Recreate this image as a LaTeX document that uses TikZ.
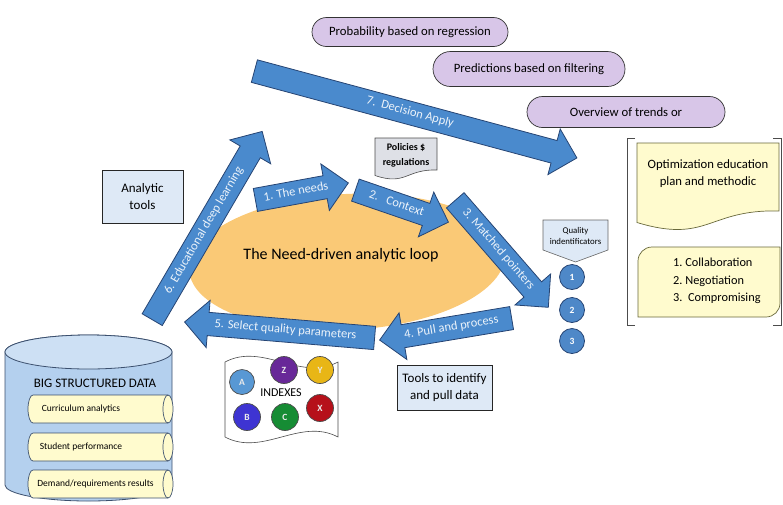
\documentclass[tikz,border=0pt]{standalone}
\usepackage{fontspec}
\setmainfont{Carlito}
\usetikzlibrary{shapes.arrows,shapes.misc,shapes.geometric}

\definecolor{ablue}{RGB}{74,138,205}
\definecolor{aedge}{RGB}{38,68,115}
\definecolor{atext}{RGB}{236,243,250}
\definecolor{loopfill}{RGB}{250,201,118}
\definecolor{lav}{RGB}{216,198,232}
\definecolor{lblue}{RGB}{222,233,246}
\definecolor{lyel}{RGB}{255,251,206}
\definecolor{yedge}{RGB}{105,105,60}
\definecolor{docgray}{RGB}{222,224,230}
\definecolor{cylbody}{RGB}{180,208,238}
\definecolor{cyltop}{RGB}{205,224,244}
\definecolor{cyledge}{RGB}{60,80,110}
\definecolor{cblue}{RGB}{78,136,200}
\definecolor{iA}{RGB}{88,152,212}
\definecolor{iZ}{RGB}{104,40,152}
\definecolor{iY}{RGB}{232,182,22}
\definecolor{iB}{RGB}{62,52,210}
\definecolor{iC}{RGB}{22,140,52}
\definecolor{iX}{RGB}{182,16,26}

\begin{document}
\begin{tikzpicture}[x=1pt,y=-1pt,
  barrow/.style={single arrow, draw=aedge, fill=ablue, line width=0.8pt,
    text=atext, font=\fontsize{12.5}{14}\selectfont, text height=8.5pt,
    text depth=3pt, inner ysep=5.5pt, inner xsep=3pt,
    single arrow head extend=12pt, anchor=tail},
  pill/.style={rounded rectangle, draw=black!80, fill=lav, line width=0.7pt,
    font=\fontsize{12.7}{15}\selectfont, inner sep=0pt},
  bluebox/.style={draw=black!85, fill=lblue, line width=0.7pt, align=center,
    inner sep=0pt},
  yel/.style={draw=yedge, fill=lyel, line width=0.7pt},
  cylb/.style={draw=cyledge, fill=lyel, line width=0.7pt},
  num/.style={circle, draw=aedge, fill=cblue, line width=0.8pt, minimum size=25pt,
    inner sep=0pt, text=white, font=\fontsize{9.5}{10}\selectfont\bfseries},
  idx/.style={circle, draw=black!70, line width=0.7pt, minimum size=27pt,
    inner sep=0pt, text=white!92!black, font=\fontsize{9.5}{10}\selectfont\bfseries},
  lbl/.style={inner sep=0pt, align=center}
]
\useasboundingbox (0,0) rectangle (783,504);

% central loop
\fill[loopfill, rotate around={3:(347,262)}] (347,262) ellipse[x radius=158pt, y radius=68pt];

% purple pills
\node[pill, minimum width=196pt, minimum height=29pt] (p1) at (410,32) {Probability based on regression};
\node[pill, minimum width=192pt, minimum height=35pt] (p2) at (529,69) {Predictions based on filtering};
\node[pill, minimum width=198pt, minimum height=31pt] (p3) at (626,112) {Overview of trends or};

% arrows
\node[barrow, minimum height=334pt, rotate=-15.07] (a7) at (254,71) {7.\ \ Decision Apply};
\node[barrow, minimum height=218pt, rotate=59.7] (a6) at (152,320) {6. Educational deep learning\hspace{28pt}};
\node[barrow, minimum height=94.5pt, rotate=10.36] (a1) at (255,200) {1. The needs};
\node[barrow, minimum height=98.4pt, rotate=-18.98] (a2) at (355,190) {2.\ \ \ Context};
\node[barrow, minimum height=141.8pt, rotate=-48.99] (a3) at (455,200) {3. Matched pointers};
\node[barrow, minimum height=133.8pt, rotate=9.46, shape border rotate=180] (a4) at (512,318) {4. Pull and process};
\node[barrow, minimum height=190.7pt, rotate=-4.81, shape border rotate=180] (a5) at (375,338) {5. Select quality parameters};

\node[lbl, font=\fontsize{16}{18}\selectfont] (loop) at (341,255) {The Need-driven analytic loop};

% analytic tools
\node[bluebox, minimum width=81pt, minimum height=53pt, font=\fontsize{13}{17}\selectfont] (at) at (142.5,196.5) {Analytic\\tools};

% policies document
\filldraw[draw=black!70, fill=docgray, line width=0.6pt] (375,138) -- (437,138) -- (437,170)
  .. controls (406,169) and (406,186) .. (375,175.5) -- cycle;
\node[lbl, font=\fontsize{10}{15}\selectfont\bfseries] (pol) at (406,155) {Policies \$\\regulations};

% quality indentificators
\filldraw[draw=black!60, fill=lblue, line width=0.6pt] (543,220) -- (608,220) -- (608,250) -- (575.5,262) -- (543,250) -- cycle;
\node[lbl, font=\fontsize{8.8}{11}\selectfont] (qi) at (575.5,236) {Quality\\indentificators};
\node[num] (n1) at (572,277) {1};
\node[num] (n2) at (572,310) {2};
\node[num] (n3) at (572,341) {3};

% tools to identify
\node[bluebox, minimum width=95pt, minimum height=45pt, font=\fontsize{13}{17}\selectfont] (tt) at (444.5,387.5) {Tools to identify\\and pull data};

% right bracket group
\draw[black!70, line width=0.7pt] (635,138) -- (627,138) -- (627,325) -- (635,325);
\draw[black!70, line width=0.7pt] (773,138) -- (781.5,138) -- (781.5,325) -- (773,325);
\filldraw[yel] (637,143) -- (779,143) -- (779,211) .. controls (708,209) and (708,244) .. (637,222.5) -- cycle;
\node[lbl, font=\fontsize{12.7}{17}\selectfont] (opt) at (708,174) {Optimization education\\plan and methodic};
\filldraw[yel] (638,317) -- (638,261) arc[start angle=180, end angle=90, radius=14pt] -- (780,247) -- (780,303) arc[start angle=0, end angle=-90, radius=14pt] -- cycle;
\node[lbl, align=left, anchor=west, font=\fontsize{12.3}{17.5}\selectfont] (cnc) at (673,281) {1.\ Collaboration\\2.\ Negotiation\\3.\ \ Compromising};

% indexes
\filldraw[draw=black!70, fill=white, line width=0.6pt] (225,362) .. controls (263,342) and (300,382) .. (338,362)
  -- (338,437) .. controls (300,417) and (263,457) .. (225,437) -- cycle;
\node[lbl, font=\fontsize{12}{13}\selectfont] (ixt) at (281,393) {INDEXES};
\node[idx, fill=iA, minimum size=25pt] (iA) at (242,382) {A};
\node[idx, fill=iZ] (iZ) at (284,370) {Z};
\node[idx, fill=iY] (iY) at (320,370) {Y};
\node[idx, fill=iB] (iB) at (247,417) {B};
\node[idx, fill=iC] (iC) at (285,417) {C};
\node[idx, fill=iX] (iX) at (320,408) {X};

% big structured data cylinder
\filldraw[draw=cyledge, fill=cylbody, line width=0.8pt] (5,352) -- (5,485)
  arc[start angle=180, end angle=360, x radius=83.5pt, y radius=16pt] -- (172,352)
  arc[start angle=0, end angle=180, x radius=83.5pt, y radius=17pt] -- cycle;
\filldraw[draw=cyledge, fill=cyltop, line width=0.8pt] (88.5,352) ellipse[x radius=83.5pt, y radius=17pt];
\node[lbl, font=\fontsize{13}{15}\selectfont] (bsd) at (95,383) {BIG STRUCTURED DATA};

\foreach \yt/\nm/\tx/\cx in {395/c1/Curriculum analytics/81, 433/c2/Student performance/81, 470/c3/Demand\slash requirements results/95.5}{
  \filldraw[cylb] (33,\yt) -- (168,\yt) arc[start angle=90, end angle=-90, x radius=5pt, y radius=14pt]
    -- (33,\yt+28) arc[start angle=270, end angle=90, x radius=5pt, y radius=14pt] -- cycle;
  \draw[cylb, fill=none] (168,\yt) arc[start angle=90, end angle=270, x radius=5pt, y radius=14pt];
  \node[lbl, font=\fontsize{9.5}{11}\selectfont] (\nm) at (\cx,\yt+14) {\tx};
}
\end{tikzpicture}
\end{document}
